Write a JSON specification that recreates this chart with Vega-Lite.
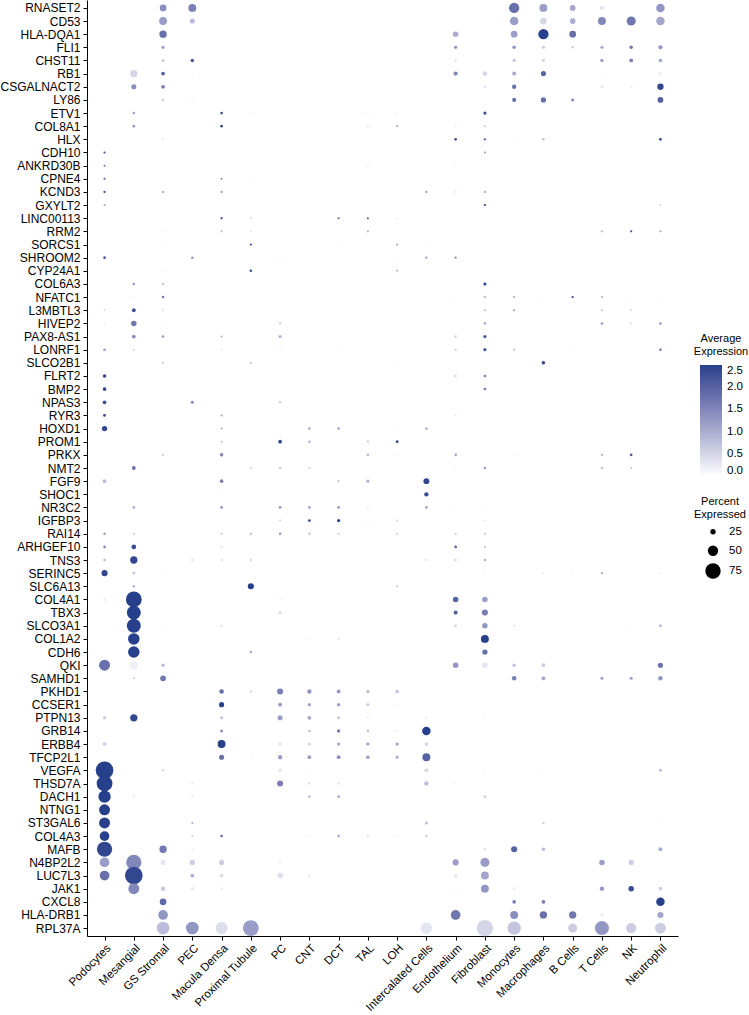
{
"$schema":"https://vega.github.io/schema/vega-lite/v6.json",
"width":591,"height":936,
"autosize":{"type":"none"},
"padding":{"left":87,"top":0,"right":71,"bottom":79},
"background":"white",
"data":{"values":[
{"gene":"RNASET2","cell":"GS Stromal","pct":32,"avg":1.4},{"gene":"RNASET2","cell":"PEC","pct":38,"avg":1.6},{"gene":"RNASET2","cell":"Monocytes","pct":50,"avg":1.8},{"gene":"RNASET2","cell":"Macrophages","pct":38,"avg":1.2},{"gene":"RNASET2","cell":"B Cells","pct":27,"avg":1.1},{"gene":"RNASET2","cell":"T Cells","pct":20,"avg":0.3},{"gene":"RNASET2","cell":"Neutrophil","pct":41,"avg":1.3},
{"gene":"CD53","cell":"GS Stromal","pct":38,"avg":1.2},{"gene":"CD53","cell":"PEC","pct":24,"avg":0.8},{"gene":"CD53","cell":"Monocytes","pct":41,"avg":1.2},{"gene":"CD53","cell":"Macrophages","pct":32,"avg":0.5},{"gene":"CD53","cell":"B Cells","pct":27,"avg":1.0},{"gene":"CD53","cell":"T Cells","pct":38,"avg":1.5},{"gene":"CD53","cell":"NK","pct":44,"avg":1.7},{"gene":"CD53","cell":"Neutrophil","pct":41,"avg":1.1},
{"gene":"HLA-DQA1","cell":"GS Stromal","pct":35,"avg":1.8},{"gene":"HLA-DQA1","cell":"Endothelium","pct":26,"avg":1.0},{"gene":"HLA-DQA1","cell":"Monocytes","pct":32,"avg":1.2},{"gene":"HLA-DQA1","cell":"Macrophages","pct":50,"avg":2.5},{"gene":"HLA-DQA1","cell":"B Cells","pct":32,"avg":1.8},
{"gene":"FLI1","cell":"GS Stromal","pct":14,"avg":1.2},{"gene":"FLI1","cell":"Endothelium","pct":14,"avg":1.3},{"gene":"FLI1","cell":"Monocytes","pct":16,"avg":1.3},{"gene":"FLI1","cell":"Macrophages","pct":14,"avg":0.6},{"gene":"FLI1","cell":"B Cells","pct":10,"avg":0.6},{"gene":"FLI1","cell":"T Cells","pct":14,"avg":1.0},{"gene":"FLI1","cell":"NK","pct":16,"avg":1.7},{"gene":"FLI1","cell":"Neutrophil","pct":19,"avg":1.3},
{"gene":"CHST11","cell":"GS Stromal","pct":10,"avg":0.8},{"gene":"CHST11","cell":"PEC","pct":15,"avg":2.2},{"gene":"CHST11","cell":"Endothelium","pct":8,"avg":0.5},{"gene":"CHST11","cell":"Monocytes","pct":14,"avg":0.7},{"gene":"CHST11","cell":"Macrophages","pct":14,"avg":0.5},{"gene":"CHST11","cell":"T Cells","pct":16,"avg":1.1},{"gene":"CHST11","cell":"NK","pct":17,"avg":1.6},{"gene":"CHST11","cell":"Neutrophil","pct":16,"avg":1.1},
{"gene":"RB1","cell":"Mesangial","pct":35,"avg":0.5},{"gene":"RB1","cell":"GS Stromal","pct":17,"avg":2.0},{"gene":"RB1","cell":"PEC","pct":6,"avg":0.2},{"gene":"RB1","cell":"Endothelium","pct":20,"avg":1.5},{"gene":"RB1","cell":"Fibroblast","pct":22,"avg":0.5},{"gene":"RB1","cell":"Monocytes","pct":19,"avg":1.0},{"gene":"RB1","cell":"Macrophages","pct":24,"avg":2.0},{"gene":"RB1","cell":"T Cells","pct":5,"avg":0.2},{"gene":"RB1","cell":"Neutrophil","pct":17,"avg":0.2},
{"gene":"CSGALNACT2","cell":"Mesangial","pct":24,"avg":1.4},{"gene":"CSGALNACT2","cell":"GS Stromal","pct":17,"avg":1.6},{"gene":"CSGALNACT2","cell":"Fibroblast","pct":14,"avg":0.3},{"gene":"CSGALNACT2","cell":"Monocytes","pct":20,"avg":1.8},{"gene":"CSGALNACT2","cell":"T Cells","pct":13,"avg":0.3},{"gene":"CSGALNACT2","cell":"NK","pct":11,"avg":0.2},{"gene":"CSGALNACT2","cell":"Neutrophil","pct":30,"avg":2.4},
{"gene":"LY86","cell":"GS Stromal","pct":11,"avg":0.6},{"gene":"LY86","cell":"PEC","pct":6,"avg":0.2},{"gene":"LY86","cell":"Monocytes","pct":19,"avg":1.8},{"gene":"LY86","cell":"Macrophages","pct":25,"avg":1.8},{"gene":"LY86","cell":"B Cells","pct":13,"avg":1.5},{"gene":"LY86","cell":"Neutrophil","pct":27,"avg":2.0},
{"gene":"ETV1","cell":"Mesangial","pct":10,"avg":1.2},{"gene":"ETV1","cell":"Macula Densa","pct":11,"avg":2.3},{"gene":"ETV1","cell":"Proximal Tubule","pct":5,"avg":0.2},{"gene":"ETV1","cell":"TAL","pct":5,"avg":0.2},{"gene":"ETV1","cell":"LOH","pct":5,"avg":0.2},{"gene":"ETV1","cell":"Fibroblast","pct":14,"avg":2.3},
{"gene":"COL8A1","cell":"Mesangial","pct":11,"avg":1.3},{"gene":"COL8A1","cell":"Macula Densa","pct":11,"avg":2.4},{"gene":"COL8A1","cell":"TAL","pct":6,"avg":0.4},{"gene":"COL8A1","cell":"LOH","pct":8,"avg":1.0},{"gene":"COL8A1","cell":"Endothelium","pct":5,"avg":0.3},{"gene":"COL8A1","cell":"Fibroblast","pct":8,"avg":0.6},
{"gene":"HLX","cell":"GS Stromal","pct":7,"avg":0.3},{"gene":"HLX","cell":"Endothelium","pct":11,"avg":2.3},{"gene":"HLX","cell":"Fibroblast","pct":11,"avg":1.5},{"gene":"HLX","cell":"Monocytes","pct":5,"avg":0.2},{"gene":"HLX","cell":"Macrophages","pct":10,"avg":0.8},{"gene":"HLX","cell":"Neutrophil","pct":12,"avg":2.4},
{"gene":"CDH10","cell":"Podocytes","pct":8,"avg":2.2},{"gene":"CDH10","cell":"Fibroblast","pct":7,"avg":1.3},
{"gene":"ANKRD30B","cell":"Podocytes","pct":7,"avg":1.8},{"gene":"ANKRD30B","cell":"TAL","pct":5,"avg":0.3},{"gene":"ANKRD30B","cell":"Endothelium","pct":4,"avg":0.2},
{"gene":"CPNE4","cell":"Podocytes","pct":8,"avg":2.0},{"gene":"CPNE4","cell":"Macula Densa","pct":7,"avg":1.5},{"gene":"CPNE4","cell":"Proximal Tubule","pct":4,"avg":0.2},
{"gene":"KCND3","cell":"Podocytes","pct":9,"avg":2.2},{"gene":"KCND3","cell":"GS Stromal","pct":7,"avg":1.3},{"gene":"KCND3","cell":"Macula Densa","pct":8,"avg":1.3},{"gene":"KCND3","cell":"Intercalated Cells","pct":8,"avg":1.3},{"gene":"KCND3","cell":"Endothelium","pct":6,"avg":0.4},{"gene":"KCND3","cell":"Fibroblast","pct":9,"avg":1.0},
{"gene":"GXYLT2","cell":"Podocytes","pct":8,"avg":1.0},{"gene":"GXYLT2","cell":"Fibroblast","pct":9,"avg":2.3},{"gene":"GXYLT2","cell":"Neutrophil","pct":9,"avg":0.5},
{"gene":"LINC00113","cell":"Macula Densa","pct":9,"avg":2.2},{"gene":"LINC00113","cell":"Proximal Tubule","pct":6,"avg":0.5},{"gene":"LINC00113","cell":"DCT","pct":8,"avg":2.0},{"gene":"LINC00113","cell":"TAL","pct":8,"avg":2.0},{"gene":"LINC00113","cell":"LOH","pct":5,"avg":0.3},
{"gene":"RRM2","cell":"GS Stromal","pct":6,"avg":0.2},{"gene":"RRM2","cell":"Macula Densa","pct":8,"avg":0.8},{"gene":"RRM2","cell":"Proximal Tubule","pct":5,"avg":0.4},{"gene":"RRM2","cell":"TAL","pct":7,"avg":1.0},{"gene":"RRM2","cell":"T Cells","pct":9,"avg":0.8},{"gene":"RRM2","cell":"NK","pct":8,"avg":2.3},{"gene":"RRM2","cell":"Neutrophil","pct":8,"avg":1.0},
{"gene":"SORCS1","cell":"GS Stromal","pct":5,"avg":0.2},{"gene":"SORCS1","cell":"Proximal Tubule","pct":8,"avg":2.4},{"gene":"SORCS1","cell":"DCT","pct":4,"avg":0.2},{"gene":"SORCS1","cell":"LOH","pct":7,"avg":1.2},{"gene":"SORCS1","cell":"Intercalated Cells","pct":4,"avg":0.2},
{"gene":"SHROOM2","cell":"Podocytes","pct":11,"avg":2.2},{"gene":"SHROOM2","cell":"PEC","pct":10,"avg":1.3},{"gene":"SHROOM2","cell":"PC","pct":5,"avg":0.2},{"gene":"SHROOM2","cell":"LOH","pct":4,"avg":0.2},{"gene":"SHROOM2","cell":"Intercalated Cells","pct":8,"avg":1.3},{"gene":"SHROOM2","cell":"Endothelium","pct":8,"avg":1.5},
{"gene":"CYP24A1","cell":"GS Stromal","pct":4,"avg":0.2},{"gene":"CYP24A1","cell":"Proximal Tubule","pct":10,"avg":2.4},{"gene":"CYP24A1","cell":"LOH","pct":7,"avg":1.0},
{"gene":"COL6A3","cell":"Mesangial","pct":10,"avg":1.3},{"gene":"COL6A3","cell":"GS Stromal","pct":8,"avg":0.8},{"gene":"COL6A3","cell":"Fibroblast","pct":13,"avg":2.5},
{"gene":"NFATC1","cell":"Mesangial","pct":4,"avg":0.2},{"gene":"NFATC1","cell":"GS Stromal","pct":11,"avg":1.6},{"gene":"NFATC1","cell":"Endothelium","pct":4,"avg":0.2},{"gene":"NFATC1","cell":"Fibroblast","pct":10,"avg":0.8},{"gene":"NFATC1","cell":"Monocytes","pct":8,"avg":1.0},{"gene":"NFATC1","cell":"Macrophages","pct":4,"avg":0.2},{"gene":"NFATC1","cell":"B Cells","pct":9,"avg":2.2},{"gene":"NFATC1","cell":"T Cells","pct":8,"avg":0.9},{"gene":"NFATC1","cell":"NK","pct":4,"avg":0.2},{"gene":"NFATC1","cell":"Neutrophil","pct":5,"avg":0.2},
{"gene":"L3MBTL3","cell":"Podocytes","pct":6,"avg":0.5},{"gene":"L3MBTL3","cell":"Mesangial","pct":17,"avg":2.3},{"gene":"L3MBTL3","cell":"GS Stromal","pct":5,"avg":0.4},{"gene":"L3MBTL3","cell":"Fibroblast","pct":9,"avg":0.7},{"gene":"L3MBTL3","cell":"Monocytes","pct":8,"avg":1.2},{"gene":"L3MBTL3","cell":"T Cells","pct":8,"avg":0.8},{"gene":"L3MBTL3","cell":"NK","pct":6,"avg":0.5},
{"gene":"HIVEP2","cell":"Podocytes","pct":5,"avg":0.3},{"gene":"HIVEP2","cell":"Mesangial","pct":26,"avg":1.7},{"gene":"HIVEP2","cell":"GS Stromal","pct":5,"avg":0.2},{"gene":"HIVEP2","cell":"PC","pct":9,"avg":0.6},{"gene":"HIVEP2","cell":"Fibroblast","pct":11,"avg":1.0},{"gene":"HIVEP2","cell":"T Cells","pct":10,"avg":1.3},{"gene":"HIVEP2","cell":"NK","pct":6,"avg":0.5},{"gene":"HIVEP2","cell":"Neutrophil","pct":10,"avg":1.4},
{"gene":"PAX8-AS1","cell":"Mesangial","pct":17,"avg":1.4},{"gene":"PAX8-AS1","cell":"GS Stromal","pct":11,"avg":1.2},{"gene":"PAX8-AS1","cell":"Macula Densa","pct":8,"avg":0.9},{"gene":"PAX8-AS1","cell":"PC","pct":14,"avg":0.9},{"gene":"PAX8-AS1","cell":"Endothelium","pct":9,"avg":0.6},{"gene":"PAX8-AS1","cell":"Fibroblast","pct":14,"avg":2.2},
{"gene":"LONRF1","cell":"Podocytes","pct":13,"avg":1.0},{"gene":"LONRF1","cell":"Mesangial","pct":10,"avg":0.4},{"gene":"LONRF1","cell":"Macula Densa","pct":5,"avg":0.4},{"gene":"LONRF1","cell":"PC","pct":5,"avg":0.2},{"gene":"LONRF1","cell":"DCT","pct":5,"avg":0.2},{"gene":"LONRF1","cell":"Endothelium","pct":9,"avg":0.6},{"gene":"LONRF1","cell":"Fibroblast","pct":14,"avg":2.2},{"gene":"LONRF1","cell":"Monocytes","pct":8,"avg":0.7},{"gene":"LONRF1","cell":"B Cells","pct":4,"avg":0.1},{"gene":"LONRF1","cell":"Neutrophil","pct":10,"avg":1.8},
{"gene":"SLCO2B1","cell":"GS Stromal","pct":8,"avg":0.6},{"gene":"SLCO2B1","cell":"Proximal Tubule","pct":9,"avg":0.6},{"gene":"SLCO2B1","cell":"LOH","pct":4,"avg":0.15},{"gene":"SLCO2B1","cell":"Macrophages","pct":16,"avg":2.4},
{"gene":"FLRT2","cell":"Podocytes","pct":16,"avg":2.4},{"gene":"FLRT2","cell":"Endothelium","pct":8,"avg":0.6},{"gene":"FLRT2","cell":"Fibroblast","pct":11,"avg":1.6},
{"gene":"BMP2","cell":"Podocytes","pct":17,"avg":2.4},{"gene":"BMP2","cell":"Fibroblast","pct":12,"avg":1.6},
{"gene":"NPAS3","cell":"Podocytes","pct":17,"avg":2.3},{"gene":"NPAS3","cell":"PEC","pct":13,"avg":1.5},{"gene":"NPAS3","cell":"PC","pct":9,"avg":0.6},
{"gene":"RYR3","cell":"Podocytes","pct":12,"avg":2.3},{"gene":"RYR3","cell":"Macula Densa","pct":8,"avg":1.1},{"gene":"RYR3","cell":"Endothelium","pct":5,"avg":0.3},
{"gene":"HOXD1","cell":"Podocytes","pct":25,"avg":2.4},{"gene":"HOXD1","cell":"Macula Densa","pct":8,"avg":0.9},{"gene":"HOXD1","cell":"CNT","pct":10,"avg":1.1},{"gene":"HOXD1","cell":"DCT","pct":10,"avg":1.2},{"gene":"HOXD1","cell":"LOH","pct":4,"avg":0.2},{"gene":"HOXD1","cell":"Intercalated Cells","pct":11,"avg":1.0},
{"gene":"PROM1","cell":"Macula Densa","pct":7,"avg":0.7},{"gene":"PROM1","cell":"PC","pct":17,"avg":2.4},{"gene":"PROM1","cell":"CNT","pct":10,"avg":0.9},{"gene":"PROM1","cell":"TAL","pct":9,"avg":0.7},{"gene":"PROM1","cell":"LOH","pct":12,"avg":2.3},
{"gene":"PRKX","cell":"GS Stromal","pct":8,"avg":0.6},{"gene":"PRKX","cell":"Macula Densa","pct":16,"avg":1.5},{"gene":"PRKX","cell":"TAL","pct":12,"avg":0.8},{"gene":"PRKX","cell":"LOH","pct":4,"avg":0.2},{"gene":"PRKX","cell":"Endothelium","pct":13,"avg":0.9},{"gene":"PRKX","cell":"Monocytes","pct":4,"avg":0.2},{"gene":"PRKX","cell":"T Cells","pct":8,"avg":1.0},{"gene":"PRKX","cell":"NK","pct":11,"avg":2.2},
{"gene":"NMT2","cell":"Mesangial","pct":17,"avg":1.8},{"gene":"NMT2","cell":"Proximal Tubule","pct":8,"avg":0.6},{"gene":"NMT2","cell":"PC","pct":11,"avg":0.6},{"gene":"NMT2","cell":"CNT","pct":8,"avg":0.6},{"gene":"NMT2","cell":"Endothelium","pct":5,"avg":0.2},{"gene":"NMT2","cell":"Fibroblast","pct":11,"avg":1.2},{"gene":"NMT2","cell":"T Cells","pct":8,"avg":1.0},{"gene":"NMT2","cell":"NK","pct":8,"avg":0.7},
{"gene":"FGF9","cell":"Podocytes","pct":17,"avg":0.8},{"gene":"FGF9","cell":"Macula Densa","pct":16,"avg":1.6},{"gene":"FGF9","cell":"DCT","pct":9,"avg":0.7},{"gene":"FGF9","cell":"TAL","pct":15,"avg":0.9},{"gene":"FGF9","cell":"Intercalated Cells","pct":28,"avg":2.4},
{"gene":"SHOC1","cell":"Macula Densa","pct":4,"avg":0.2},{"gene":"SHOC1","cell":"Intercalated Cells","pct":20,"avg":2.3},
{"gene":"NR3C2","cell":"Mesangial","pct":12,"avg":1.0},{"gene":"NR3C2","cell":"Macula Densa","pct":11,"avg":1.4},{"gene":"NR3C2","cell":"PC","pct":12,"avg":1.3},{"gene":"NR3C2","cell":"CNT","pct":11,"avg":1.2},{"gene":"NR3C2","cell":"DCT","pct":11,"avg":1.3},{"gene":"NR3C2","cell":"TAL","pct":5,"avg":0.3},{"gene":"NR3C2","cell":"Intercalated Cells","pct":12,"avg":1.1},{"gene":"NR3C2","cell":"Endothelium","pct":4,"avg":0.2},{"gene":"NR3C2","cell":"Fibroblast","pct":4,"avg":0.2},
{"gene":"IGFBP3","cell":"PC","pct":8,"avg":0.5},{"gene":"IGFBP3","cell":"CNT","pct":12,"avg":2.3},{"gene":"IGFBP3","cell":"DCT","pct":14,"avg":2.5},{"gene":"IGFBP3","cell":"TAL","pct":5,"avg":0.2},{"gene":"IGFBP3","cell":"LOH","pct":7,"avg":0.5},{"gene":"IGFBP3","cell":"Fibroblast","pct":5,"avg":0.3},
{"gene":"RAI14","cell":"Podocytes","pct":10,"avg":1.2},{"gene":"RAI14","cell":"Mesangial","pct":7,"avg":0.6},{"gene":"RAI14","cell":"Macula Densa","pct":8,"avg":0.6},{"gene":"RAI14","cell":"Proximal Tubule","pct":8,"avg":1.0},{"gene":"RAI14","cell":"PC","pct":11,"avg":1.2},{"gene":"RAI14","cell":"CNT","pct":8,"avg":1.0},{"gene":"RAI14","cell":"DCT","pct":8,"avg":0.6},{"gene":"RAI14","cell":"LOH","pct":7,"avg":0.6},{"gene":"RAI14","cell":"Endothelium","pct":8,"avg":0.7},{"gene":"RAI14","cell":"Fibroblast","pct":8,"avg":0.7},
{"gene":"ARHGEF10","cell":"Podocytes","pct":11,"avg":1.5},{"gene":"ARHGEF10","cell":"Mesangial","pct":22,"avg":2.3},{"gene":"ARHGEF10","cell":"Macula Densa","pct":5,"avg":0.4},{"gene":"ARHGEF10","cell":"Endothelium","pct":11,"avg":2.0},{"gene":"ARHGEF10","cell":"Fibroblast","pct":8,"avg":0.7},
{"gene":"TNS3","cell":"Podocytes","pct":11,"avg":0.8},{"gene":"TNS3","cell":"Mesangial","pct":35,"avg":2.4},{"gene":"TNS3","cell":"PEC","pct":7,"avg":0.5},{"gene":"TNS3","cell":"Macula Densa","pct":8,"avg":0.5},{"gene":"TNS3","cell":"Proximal Tubule","pct":8,"avg":0.6},{"gene":"TNS3","cell":"CNT","pct":4,"avg":0.2},{"gene":"TNS3","cell":"Intercalated Cells","pct":8,"avg":0.4},{"gene":"TNS3","cell":"Endothelium","pct":8,"avg":0.7},{"gene":"TNS3","cell":"Fibroblast","pct":10,"avg":1.0},
{"gene":"SERINC5","cell":"Podocytes","pct":29,"avg":2.4},{"gene":"SERINC5","cell":"Mesangial","pct":12,"avg":0.7},{"gene":"SERINC5","cell":"GS Stromal","pct":4,"avg":0.2},{"gene":"SERINC5","cell":"Fibroblast","pct":5,"avg":0.2},{"gene":"SERINC5","cell":"Macrophages","pct":7,"avg":0.3},{"gene":"SERINC5","cell":"B Cells","pct":5,"avg":0.2},{"gene":"SERINC5","cell":"T Cells","pct":8,"avg":1.0},{"gene":"SERINC5","cell":"Neutrophil","pct":7,"avg":0.3},
{"gene":"SLC6A13","cell":"Mesangial","pct":8,"avg":1.3},{"gene":"SLC6A13","cell":"Proximal Tubule","pct":29,"avg":2.5},{"gene":"SLC6A13","cell":"LOH","pct":8,"avg":0.7},
{"gene":"COL4A1","cell":"Podocytes","pct":12,"avg":0.2},{"gene":"COL4A1","cell":"Mesangial","pct":77,"avg":2.5},{"gene":"COL4A1","cell":"PC","pct":8,"avg":0.2},{"gene":"COL4A1","cell":"CNT","pct":4,"avg":0.1},{"gene":"COL4A1","cell":"Endothelium","pct":26,"avg":2.0},{"gene":"COL4A1","cell":"Fibroblast","pct":26,"avg":1.2},
{"gene":"TBX3","cell":"Mesangial","pct":68,"avg":2.5},{"gene":"TBX3","cell":"PC","pct":12,"avg":0.5},{"gene":"TBX3","cell":"Endothelium","pct":19,"avg":2.0},{"gene":"TBX3","cell":"Fibroblast","pct":29,"avg":1.6},
{"gene":"SLCO3A1","cell":"Mesangial","pct":68,"avg":2.5},{"gene":"SLCO3A1","cell":"GS Stromal","pct":4,"avg":0.2},{"gene":"SLCO3A1","cell":"Macula Densa","pct":8,"avg":0.5},{"gene":"SLCO3A1","cell":"Endothelium","pct":10,"avg":0.6},{"gene":"SLCO3A1","cell":"Fibroblast","pct":26,"avg":1.3},{"gene":"SLCO3A1","cell":"Monocytes","pct":8,"avg":0.4},{"gene":"SLCO3A1","cell":"NK","pct":3,"avg":0.1},{"gene":"SLCO3A1","cell":"Neutrophil","pct":13,"avg":0.8},
{"gene":"COL1A2","cell":"Mesangial","pct":56,"avg":2.5},{"gene":"COL1A2","cell":"CNT","pct":4,"avg":0.2},{"gene":"COL1A2","cell":"DCT","pct":7,"avg":0.4},{"gene":"COL1A2","cell":"Fibroblast","pct":38,"avg":2.5},
{"gene":"CDH6","cell":"Mesangial","pct":56,"avg":2.5},{"gene":"CDH6","cell":"Proximal Tubule","pct":10,"avg":1.1},{"gene":"CDH6","cell":"Fibroblast","pct":25,"avg":1.8},
{"gene":"QKI","cell":"Podocytes","pct":53,"avg":1.8},{"gene":"QKI","cell":"Mesangial","pct":38,"avg":0.2},{"gene":"QKI","cell":"GS Stromal","pct":16,"avg":0.8},{"gene":"QKI","cell":"Endothelium","pct":26,"avg":1.3},{"gene":"QKI","cell":"Fibroblast","pct":26,"avg":0.3},{"gene":"QKI","cell":"Monocytes","pct":16,"avg":0.7},{"gene":"QKI","cell":"Macrophages","pct":17,"avg":0.6},{"gene":"QKI","cell":"Neutrophil","pct":24,"avg":1.8},
{"gene":"SAMHD1","cell":"Mesangial","pct":7,"avg":0.6},{"gene":"SAMHD1","cell":"GS Stromal","pct":27,"avg":1.7},{"gene":"SAMHD1","cell":"Fibroblast","pct":4,"avg":0.1},{"gene":"SAMHD1","cell":"Monocytes","pct":21,"avg":1.6},{"gene":"SAMHD1","cell":"Macrophages","pct":17,"avg":1.1},{"gene":"SAMHD1","cell":"T Cells","pct":13,"avg":1.2},{"gene":"SAMHD1","cell":"NK","pct":13,"avg":1.2},{"gene":"SAMHD1","cell":"Neutrophil","pct":21,"avg":1.3},
{"gene":"PKHD1","cell":"Macula Densa","pct":21,"avg":1.8},{"gene":"PKHD1","cell":"Proximal Tubule","pct":8,"avg":0.7},{"gene":"PKHD1","cell":"PC","pct":29,"avg":1.6},{"gene":"PKHD1","cell":"CNT","pct":20,"avg":1.3},{"gene":"PKHD1","cell":"DCT","pct":17,"avg":1.3},{"gene":"PKHD1","cell":"TAL","pct":15,"avg":0.8},{"gene":"PKHD1","cell":"LOH","pct":15,"avg":0.8},
{"gene":"CCSER1","cell":"Macula Densa","pct":24,"avg":2.5},{"gene":"CCSER1","cell":"PC","pct":17,"avg":1.3},{"gene":"CCSER1","cell":"CNT","pct":14,"avg":1.2},{"gene":"CCSER1","cell":"DCT","pct":14,"avg":1.3},{"gene":"CCSER1","cell":"TAL","pct":12,"avg":0.7},{"gene":"CCSER1","cell":"LOH","pct":5,"avg":0.2},
{"gene":"PTPN13","cell":"Podocytes","pct":15,"avg":0.6},{"gene":"PTPN13","cell":"Mesangial","pct":35,"avg":2.4},{"gene":"PTPN13","cell":"Macula Densa","pct":13,"avg":0.8},{"gene":"PTPN13","cell":"PC","pct":24,"avg":1.2},{"gene":"PTPN13","cell":"CNT","pct":17,"avg":1.1},{"gene":"PTPN13","cell":"DCT","pct":13,"avg":0.7},{"gene":"PTPN13","cell":"TAL","pct":8,"avg":0.3},{"gene":"PTPN13","cell":"Intercalated Cells","pct":8,"avg":0.3},{"gene":"PTPN13","cell":"Fibroblast","pct":8,"avg":0.2},
{"gene":"GRB14","cell":"Macula Densa","pct":13,"avg":1.4},{"gene":"GRB14","cell":"CNT","pct":10,"avg":0.8},{"gene":"GRB14","cell":"DCT","pct":14,"avg":1.8},{"gene":"GRB14","cell":"TAL","pct":11,"avg":0.7},{"gene":"GRB14","cell":"LOH","pct":5,"avg":0.3},{"gene":"GRB14","cell":"Intercalated Cells","pct":41,"avg":2.5},
{"gene":"ERBB4","cell":"Podocytes","pct":16,"avg":0.6},{"gene":"ERBB4","cell":"Macula Densa","pct":38,"avg":2.5},{"gene":"ERBB4","cell":"PC","pct":12,"avg":0.4},{"gene":"ERBB4","cell":"CNT","pct":12,"avg":0.6},{"gene":"ERBB4","cell":"DCT","pct":15,"avg":1.0},{"gene":"ERBB4","cell":"TAL","pct":16,"avg":1.0},{"gene":"ERBB4","cell":"LOH","pct":14,"avg":1.1},{"gene":"ERBB4","cell":"Intercalated Cells","pct":14,"avg":0.6},
{"gene":"TFCP2L1","cell":"Macula Densa","pct":24,"avg":1.8},{"gene":"TFCP2L1","cell":"Proximal Tubule","pct":4,"avg":0.3},{"gene":"TFCP2L1","cell":"PC","pct":20,"avg":1.2},{"gene":"TFCP2L1","cell":"CNT","pct":17,"avg":1.2},{"gene":"TFCP2L1","cell":"DCT","pct":17,"avg":1.4},{"gene":"TFCP2L1","cell":"TAL","pct":17,"avg":1.1},{"gene":"TFCP2L1","cell":"LOH","pct":14,"avg":1.0},{"gene":"TFCP2L1","cell":"Intercalated Cells","pct":38,"avg":2.0},
{"gene":"VEGFA","cell":"Podocytes","pct":86,"avg":2.5},{"gene":"VEGFA","cell":"GS Stromal","pct":8,"avg":0.6},{"gene":"VEGFA","cell":"PEC","pct":4,"avg":0.1},{"gene":"VEGFA","cell":"Proximal Tubule","pct":4,"avg":0.1},{"gene":"VEGFA","cell":"PC","pct":17,"avg":0.3},{"gene":"VEGFA","cell":"CNT","pct":5,"avg":0.2},{"gene":"VEGFA","cell":"Intercalated Cells","pct":17,"avg":0.5},{"gene":"VEGFA","cell":"Fibroblast","pct":8,"avg":0.2},{"gene":"VEGFA","cell":"Macrophages","pct":3,"avg":0.1},{"gene":"VEGFA","cell":"Neutrophil","pct":13,"avg":0.8},
{"gene":"THSD7A","cell":"Podocytes","pct":77,"avg":2.5},{"gene":"THSD7A","cell":"PEC","pct":8,"avg":0.3},{"gene":"THSD7A","cell":"PC","pct":29,"avg":1.6},{"gene":"THSD7A","cell":"CNT","pct":10,"avg":0.4},{"gene":"THSD7A","cell":"DCT","pct":10,"avg":0.3},{"gene":"THSD7A","cell":"Intercalated Cells","pct":20,"avg":0.8},{"gene":"THSD7A","cell":"Endothelium","pct":5,"avg":0.3},
{"gene":"DACH1","cell":"Podocytes","pct":60,"avg":2.5},{"gene":"DACH1","cell":"Mesangial","pct":11,"avg":0.2},{"gene":"DACH1","cell":"PEC","pct":8,"avg":0.3},{"gene":"DACH1","cell":"CNT","pct":11,"avg":0.8},{"gene":"DACH1","cell":"DCT","pct":12,"avg":1.0},{"gene":"DACH1","cell":"Fibroblast","pct":11,"avg":0.6},
{"gene":"NTNG1","cell":"Podocytes","pct":53,"avg":2.5},
{"gene":"ST3GAL6","cell":"Podocytes","pct":53,"avg":2.5},{"gene":"ST3GAL6","cell":"PEC","pct":8,"avg":0.9},{"gene":"ST3GAL6","cell":"Intercalated Cells","pct":13,"avg":0.8},{"gene":"ST3GAL6","cell":"Macrophages","pct":10,"avg":0.6},{"gene":"ST3GAL6","cell":"Neutrophil","pct":4,"avg":0.1},
{"gene":"COL4A3","cell":"Podocytes","pct":47,"avg":2.5},{"gene":"COL4A3","cell":"PEC","pct":7,"avg":0.6},{"gene":"COL4A3","cell":"Macula Densa","pct":12,"avg":1.7},{"gene":"COL4A3","cell":"CNT","pct":4,"avg":0.2},{"gene":"COL4A3","cell":"DCT","pct":11,"avg":1.0},{"gene":"COL4A3","cell":"TAL","pct":8,"avg":0.4},{"gene":"COL4A3","cell":"LOH","pct":4,"avg":0.2},{"gene":"COL4A3","cell":"Intercalated Cells","pct":11,"avg":0.6},
{"gene":"MAFB","cell":"Podocytes","pct":74,"avg":2.4},{"gene":"MAFB","cell":"GS Stromal","pct":35,"avg":1.7},{"gene":"MAFB","cell":"PEC","pct":8,"avg":0.2},{"gene":"MAFB","cell":"Fibroblast","pct":14,"avg":0.3},{"gene":"MAFB","cell":"Monocytes","pct":29,"avg":2.0},{"gene":"MAFB","cell":"Macrophages","pct":16,"avg":0.8},{"gene":"MAFB","cell":"Neutrophil","pct":19,"avg":1.0},
{"gene":"N4BP2L2","cell":"Podocytes","pct":47,"avg":1.2},{"gene":"N4BP2L2","cell":"Mesangial","pct":74,"avg":1.5},{"gene":"N4BP2L2","cell":"GS Stromal","pct":24,"avg":0.3},{"gene":"N4BP2L2","cell":"PEC","pct":24,"avg":0.6},{"gene":"N4BP2L2","cell":"Macula Densa","pct":24,"avg":0.6},{"gene":"N4BP2L2","cell":"PC","pct":20,"avg":0.1},{"gene":"N4BP2L2","cell":"Endothelium","pct":29,"avg":1.2},{"gene":"N4BP2L2","cell":"Fibroblast","pct":44,"avg":1.2},{"gene":"N4BP2L2","cell":"T Cells","pct":26,"avg":1.2},{"gene":"N4BP2L2","cell":"NK","pct":24,"avg":0.6},
{"gene":"LUC7L3","cell":"Podocytes","pct":47,"avg":1.8},{"gene":"LUC7L3","cell":"Mesangial","pct":86,"avg":2.4},{"gene":"LUC7L3","cell":"PEC","pct":17,"avg":1.0},{"gene":"LUC7L3","cell":"Macula Densa","pct":17,"avg":0.4},{"gene":"LUC7L3","cell":"PC","pct":26,"avg":0.4},{"gene":"LUC7L3","cell":"CNT","pct":14,"avg":0.2},{"gene":"LUC7L3","cell":"Endothelium","pct":17,"avg":0.3},{"gene":"LUC7L3","cell":"Fibroblast","pct":38,"avg":1.1},
{"gene":"JAK1","cell":"Mesangial","pct":53,"avg":1.5},{"gene":"JAK1","cell":"GS Stromal","pct":20,"avg":0.7},{"gene":"JAK1","cell":"PEC","pct":13,"avg":0.3},{"gene":"JAK1","cell":"Macula Densa","pct":13,"avg":0.2},{"gene":"JAK1","cell":"Endothelium","pct":11,"avg":0.1},{"gene":"JAK1","cell":"Fibroblast","pct":38,"avg":1.3},{"gene":"JAK1","cell":"Monocytes","pct":14,"avg":0.2},{"gene":"JAK1","cell":"T Cells","pct":20,"avg":1.3},{"gene":"JAK1","cell":"NK","pct":26,"avg":2.3},{"gene":"JAK1","cell":"Neutrophil","pct":17,"avg":0.6},
{"gene":"CXCL8","cell":"GS Stromal","pct":32,"avg":1.9},{"gene":"CXCL8","cell":"Monocytes","pct":17,"avg":1.6},{"gene":"CXCL8","cell":"Macrophages","pct":17,"avg":1.6},{"gene":"CXCL8","cell":"Neutrophil","pct":41,"avg":2.5},
{"gene":"HLA-DRB1","cell":"GS Stromal","pct":47,"avg":1.3},{"gene":"HLA-DRB1","cell":"Endothelium","pct":47,"avg":1.7},{"gene":"HLA-DRB1","cell":"Monocytes","pct":38,"avg":1.4},{"gene":"HLA-DRB1","cell":"Macrophages","pct":35,"avg":1.8},{"gene":"HLA-DRB1","cell":"B Cells","pct":35,"avg":1.7},{"gene":"HLA-DRB1","cell":"T Cells","pct":13,"avg":0.3},{"gene":"HLA-DRB1","cell":"Neutrophil","pct":29,"avg":1.1},
{"gene":"RPL37A","cell":"GS Stromal","pct":62,"avg":0.8},{"gene":"RPL37A","cell":"PEC","pct":62,"avg":1.3},{"gene":"RPL37A","cell":"Macula Densa","pct":59,"avg":0.4},{"gene":"RPL37A","cell":"Proximal Tubule","pct":77,"avg":1.2},{"gene":"RPL37A","cell":"Intercalated Cells","pct":56,"avg":0.3},{"gene":"RPL37A","cell":"Fibroblast","pct":80,"avg":0.5},{"gene":"RPL37A","cell":"Monocytes","pct":65,"avg":0.7},{"gene":"RPL37A","cell":"B Cells","pct":44,"avg":0.6},{"gene":"RPL37A","cell":"T Cells","pct":68,"avg":1.3},{"gene":"RPL37A","cell":"NK","pct":50,"avg":0.6},{"gene":"RPL37A","cell":"Neutrophil","pct":53,"avg":0.6}
]},
"mark":{"type":"circle","opacity":1,"strokeWidth":0},
"encoding":{
"x":{"field":"cell","type":"nominal","title":null,
"scale":{"type":"point","padding":0.6,"domain":["Podocytes","Mesangial","GS Stromal","PEC","Macula Densa","Proximal Tubule","PC","CNT","DCT","TAL","LOH","Intercalated Cells","Endothelium","Fibroblast","Monocytes","Macrophages","B Cells","T Cells","NK","Neutrophil"]},
"axis":{"labelAngle":-45,"labelAlign":"right","labelBaseline":"top","labelPadding":2,"labelFontSize":11.5}},
"y":{"field":"gene","type":"nominal","title":null,
"scale":{"type":"point","padding":0.6,"domain":["RNASET2","CD53","HLA-DQA1","FLI1","CHST11","RB1","CSGALNACT2","LY86","ETV1","COL8A1","HLX","CDH10","ANKRD30B","CPNE4","KCND3","GXYLT2","LINC00113","RRM2","SORCS1","SHROOM2","CYP24A1","COL6A3","NFATC1","L3MBTL3","HIVEP2","PAX8-AS1","LONRF1","SLCO2B1","FLRT2","BMP2","NPAS3","RYR3","HOXD1","PROM1","PRKX","NMT2","FGF9","SHOC1","NR3C2","IGFBP3","RAI14","ARHGEF10","TNS3","SERINC5","SLC6A13","COL4A1","TBX3","SLCO3A1","COL1A2","CDH6","QKI","SAMHD1","PKHD1","CCSER1","PTPN13","GRB14","ERBB4","TFCP2L1","VEGFA","THSD7A","DACH1","NTNG1","ST3GAL6","COL4A3","MAFB","N4BP2L2","LUC7L3","JAK1","CXCL8","HLA-DRB1","RPL37A"]},
"axis":{"labelPadding":3,"labelFontSize":12}},
"color":{"field":"avg","type":"quantitative",
"scale":{"domain":[0,2.5],"range":["#FFFFFF","#27408B"],"interpolate":"lab","clamp":true},
"legend":{"title":["Average","Expression"],"orient":"none","legendX":607,"legendY":333,"direction":"vertical","gradientLength":111,"gradientThickness":22,"gradientStrokeWidth":0,"values":[0,0.5,1,1.5,2,2.5],"format":".1f","labelOffset":5,"titlePadding":8,"titleAnchor":"middle","titleAlign":"center"}},
"size":{"field":"pct","type":"quantitative",
"scale":{"type":"pow","exponent":2,"domain":[-7,100],"range":[0,420],"zero":false},
"legend":{"title":["Percent","Expressed"],"orient":"none","legendX":607,"legendY":496,"values":[25,50,75],"symbolFillColor":"black","symbolStrokeWidth":0,"symbolOpacity":1,"symbolOffset":7,"rowPadding":6,"labelOffset":8,"titlePadding":6,"titleAnchor":"middle","titleAlign":"center"}}
},
"config":{
"view":{"stroke":null},
"font":"Liberation Sans",
"axis":{"grid":false,"domainColor":"black","domainWidth":1,"tickColor":"black","tickWidth":1,"tickSize":4,"labelColor":"black","labelFont":"Liberation Sans","labelFontSize":12},
"legend":{"titleFont":"Liberation Sans","titleFontSize":11,"titleFontWeight":"normal","titleColor":"black","labelFont":"Liberation Sans","labelFontSize":11.5,"labelColor":"black","titleLineHeight":13}
}
}
